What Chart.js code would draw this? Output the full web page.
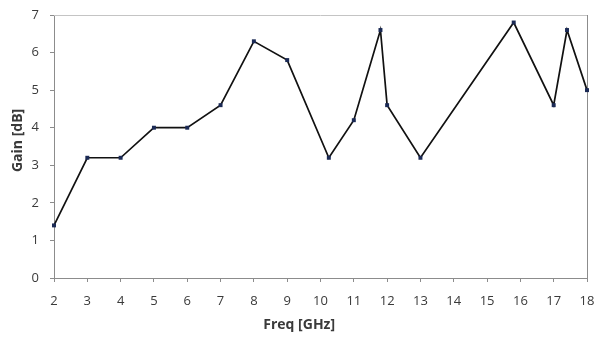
<!DOCTYPE html>
<html>
<head>
<meta charset="utf-8">
<script src="https://cdn.jsdelivr.net/npm/chart.js@4.4.1/dist/chart.umd.min.js"></script>
<style>
  html, body { margin: 0; padding: 0; background: #ffffff; }
  #wrap { width: 599px; height: 337px; }
</style>
</head>
<body>
<div id="wrap"><canvas id="gain"></canvas></div>
<script>
// Measured gain versus frequency
const freqGHz = [2, 3, 4, 5, 6, 7, 8, 9, 10.25, 11, 11.8, 12, 13, 15.8, 17, 17.4, 18];
const gainDb  = [1.4, 3.2, 3.2, 4.0, 4.0, 4.6, 6.3, 5.8, 3.2, 4.2, 6.6, 4.6, 3.2, 6.8, 4.6, 6.6, 5.0];
const xTicks = [2, 3, 4, 5, 6, 7, 8, 9, 10, 11, 12, 13, 14, 15, 16, 17, 18];
const yTicks = [0, 1, 2, 3, 4, 5, 6, 7];
const xTitle = 'Freq [GHz]';
const yTitle = 'Gain [dB]';

const points = freqGHz.map((f, i) => ({ x: f, y: gainDb[i] }));

// Frame around the plotting area: light top edge, darker right edge
const frame = {
  id: 'frame',
  beforeDatasetsDraw(chart) {
    const { ctx, chartArea: a } = chart;
    ctx.save();
    ctx.lineWidth = 1;
    ctx.strokeStyle = '#c4c4c4';
    ctx.beginPath();
    ctx.moveTo(a.left, a.top + 0.5);
    ctx.lineTo(a.right, a.top + 0.5);
    ctx.stroke();
    ctx.strokeStyle = '#8c8c8c';
    ctx.beginPath();
    ctx.moveTo(a.right + 0.5, a.top);
    ctx.lineTo(a.right + 0.5, a.bottom);
    ctx.stroke();
    ctx.restore();
  }
};

// Axis titles, placed slightly off-centre relative to the plot area
const axisTitles = {
  id: 'axisTitles',
  afterDraw(chart) {
    const { ctx, chartArea: a } = chart;
    ctx.save();
    ctx.fillStyle = '#3a3a3a';
    ctx.font = 'bold 14px "Open Sans"';
    ctx.textAlign = 'center';
    ctx.textBaseline = 'middle';
    ctx.fillText(xTitle, a.left + (a.right - a.left) * 0.46, a.bottom + 47);
    ctx.translate(18, a.top + (a.bottom - a.top) * 0.477);
    ctx.rotate(-Math.PI / 2);
    ctx.fillText(yTitle, 0, 0);
    ctx.restore();
  }
};

const tickFont = { family: 'Open Sans', size: 13 };

new Chart(document.getElementById('gain'), {
  type: 'scatter',
  data: {
    datasets: [{
      data: points,
      showLine: true,
      clip: false,
      borderColor: '#111111',
      borderWidth: 1.7,
      backgroundColor: '#1b2a55',
      pointStyle: 'rect',
      pointRadius: 2.8,
      pointBorderWidth: 0,
      pointBorderColor: '#1b2a55',
      tension: 0
    }]
  },
  options: {
    responsive: true,
    maintainAspectRatio: false,
    animation: false,
    layout: { padding: { top: 15, right: 0, left: 0, bottom: 0 } },
    plugins: { legend: { display: false }, tooltip: { enabled: false } },
    scales: {
      x: {
        type: 'linear',
        min: 2, max: 18,
        afterBuildTicks(scale) { scale.ticks = xTicks.map(v => ({ value: v })); },
        afterFit(scale) { scale.height = 59; scale.paddingRight = 12; scale.paddingLeft = 0; },
        ticks: { color: '#3a3a3a', font: tickFont, padding: 11, maxRotation: 0 },
        grid: { display: true, drawOnChartArea: false, drawTicks: true, tickLength: 4, color: '#8c8c8c' },
        border: { display: true, color: '#8c8c8c', width: 1 },
        title: { display: false }
      },
      y: {
        type: 'linear',
        min: 0, max: 7,
        afterBuildTicks(scale) { scale.ticks = yTicks.map(v => ({ value: v })); },
        afterFit(scale) { scale.width = 54; scale.paddingTop = 0; scale.paddingBottom = 0; },
        ticks: { color: '#3a3a3a', font: tickFont, padding: 11 },
        grid: { display: true, drawOnChartArea: false, drawTicks: true, tickLength: 4, color: '#8c8c8c' },
        border: { display: true, color: '#8c8c8c', width: 1 },
        title: { display: false }
      }
    }
  },
  plugins: [frame, axisTitles]
});
</script>
</body>
</html>
